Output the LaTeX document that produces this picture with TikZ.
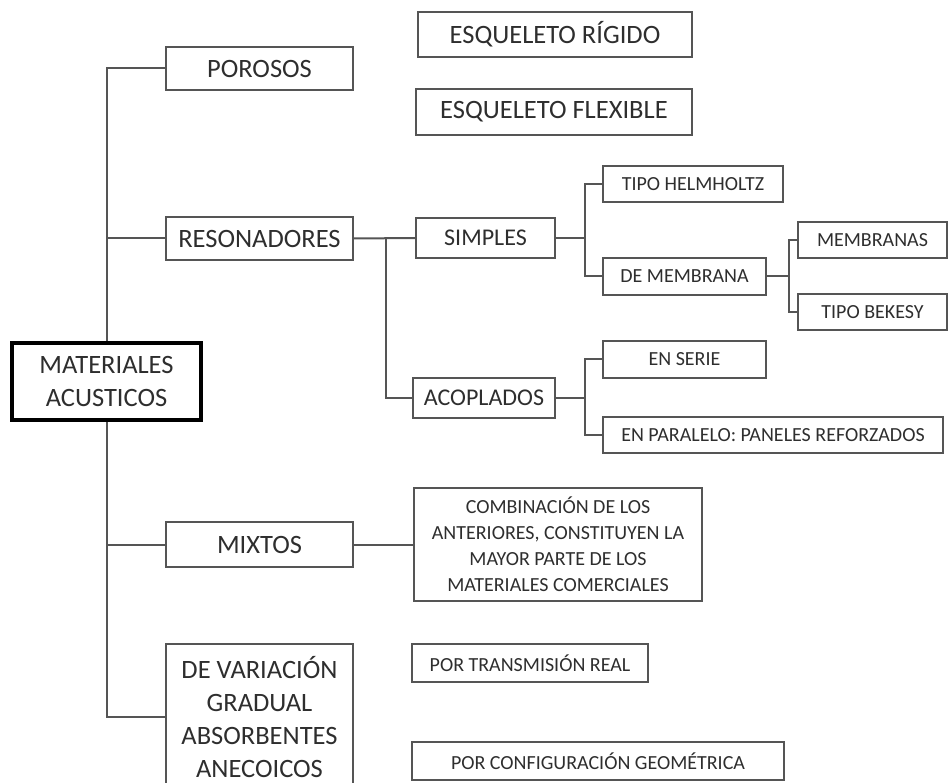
\documentclass[tikz,border=0pt]{standalone}
\usepackage{fontspec}
\setmainfont{Carlito}
\usepackage{tikz}

\definecolor{boxgray}{HTML}{555555}
\definecolor{txtgray}{HTML}{2E2E2E}

\begin{document}
\begin{tikzpicture}[x=1pt, y=-1pt,
    box/.style={draw=boxgray, line width=2pt, inner sep=0pt, align=center,
                text=txtgray, font=\fontsize{26.5}{33}\selectfont},
    smallbox/.style={box, font=\fontsize{20}{26}\selectfont},
    line/.style={draw=boxgray, line width=2pt}]
    \useasboundingbox (0, 0) rectangle (950, 783);
    % root
    \node [box, draw=black, line width=3.5pt, minimum width=189pt, minimum height=77pt]
          (mat) at (106.5, 381.5) {MATERIALES\\ACUSTICOS};
    % first level
    \node [box, minimum width=187pt, minimum height=43pt] (por) at (259.5, 68.5) {POROSOS};
    \node [box, minimum width=187pt, minimum height=43pt] (res) at (259.5, 238.5) {RESONADORES};
    \node [box, minimum width=187pt, minimum height=45pt] (mix) at (259.5, 544.5) {MIXTOS};
    \node [box, minimum width=187pt, minimum height=146pt] (var) at (259.5, 717)
          {DE VARIACIÓN\\GRADUAL\\ABSORBENTES\\ANECOICOS};
    % porosos
    \node [box, minimum width=274pt, minimum height=45pt] (rig) at (555, 34.5) {ESQUELETO RÍGIDO};
    \node [box, minimum width=276pt, minimum height=46pt] (flex) at (554, 112) {ESQUELETO FLEXIBLE};
    % resonadores
    \node [smallbox, font=\fontsize{24}{30}\selectfont, minimum width=139pt, minimum height=40pt]
          (sim) at (485.5, 238) {SIMPLES};
    \node [smallbox, font=\fontsize{24}{30}\selectfont, minimum width=142pt, minimum height=40pt]
          (aco) at (484, 398) {ACOPLADOS};
    \node [smallbox, minimum width=180pt, minimum height=36pt] (hel) at (693, 184) {TIPO HELMHOLTZ};
    \node [smallbox, minimum width=163pt, minimum height=37pt] (dmem) at (684.5, 276.5) {DE MEMBRANA};
    \node [smallbox, minimum width=149pt, minimum height=36pt] (memb) at (872.5, 240) {MEMBRANAS};
    \node [smallbox, minimum width=149pt, minimum height=36pt] (bek) at (872.5, 312) {TIPO BEKESY};
    \node [smallbox, minimum width=163pt, minimum height=37pt] (ser) at (684.5, 359.5) {EN SERIE};
    \node [smallbox, minimum width=340pt, minimum height=36pt] (par) at (773, 435)
          {EN PARALELO: PANELES REFORZADOS};
    % mixtos
    \node [smallbox, minimum width=288pt, minimum height=113pt] (comb) at (558, 544.5)
          {COMBINACIÓN DE LOS\\ANTERIORES, CONSTITUYEN LA\\MAYOR PARTE DE LOS\\MATERIALES COMERCIALES};
    % variacion gradual
    \node [smallbox, minimum width=236pt, minimum height=38pt] (trans) at (530, 663) {POR TRANSMISIÓN REAL};
    \node [smallbox, minimum width=372pt, minimum height=38pt] (geo) at (598, 761)
          {POR CONFIGURACIÓN GEOMÉTRICA};
    % junctions
    \coordinate (jr) at (386, 238.5);
    \coordinate (js) at (585, 238);
    \coordinate (ja) at (585, 398);
    \coordinate (jm) at (789, 276.5);
    % trunk
    \draw [line] (por.west) -| (mat.north);
    \draw [line] (res.west) -- (res.west -| mat.north);
    \draw [line] (mat.south) |- (var.west);
    \draw [line] (mix.west) -- (mix.west -| mat.south);
    % branches
    \draw [line] (res.east) -- (sim.west);
    \draw [line] (jr) |- (aco.west);
    \draw [line] (sim.east) -- (js);
    \draw [line] (hel.west) -| (js) |- (dmem.west);
    \draw [line] (aco.east) -- (ja);
    \draw [line] (ser.west) -| (ja) |- (par.west);
    \draw [line] (dmem.east) -- (jm);
    \draw [line] (memb.west) -| (jm) |- (bek.west);
    \draw [line] (mix.east) -- (comb.west);
\end{tikzpicture}
\end{document}
